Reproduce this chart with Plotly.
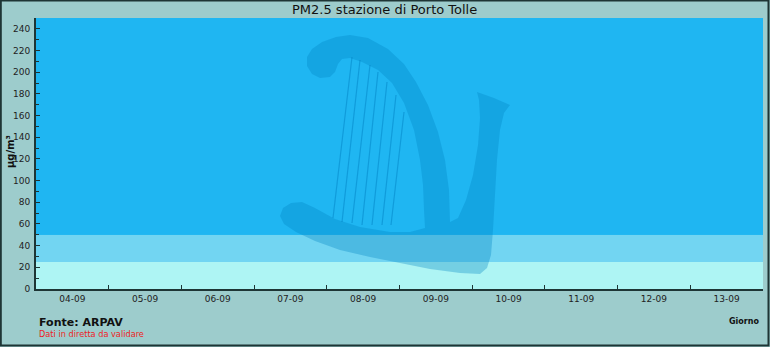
import plotly.graph_objects as go

# ---- data ----
days = ["04-09", "05-09", "06-09", "07-09", "08-09", "09-09", "10-09", "11-09", "12-09", "13-09"]
pm25 = [None, None, None, None, None, None, None, None, None, None]  # no measurements shown
band_limits = [0, 25, 50, 250]
band_colors = ["#AEF5F4", "#72D5F2", "#1FB6F2"]
y_ticks = [0, 20, 40, 60, 80, 100, 120, 140, 160, 180, 200, 220, 240]

W, H = 770, 347
L, R, T, B = 36, 7, 18, 58
PW, PH = W - L - R, H - T - B


def px(x):
    return (x - L) / PW


def py(y):
    return (H - B - y) / PH


def path(points, close=True):
    s = "M " + " L ".join(f"{px(x):.5f},{py(y):.5f}" for x, y in points)
    return s + (" Z" if close else "")


fig = go.Figure()
fig.add_trace(go.Scatter(x=days, y=pm25, mode="lines+markers", showlegend=False,
                         line=dict(color="#000000")))

shapes = []
for i, c in enumerate(band_colors):
    shapes.append(dict(type="rect", xref="paper", yref="y", x0=0, x1=1,
                       y0=band_limits[i], y1=band_limits[i + 1],
                       fillcolor=c, line=dict(width=0), layer="below"))

# watermark harp (decoration)
harp = [
    (330, 77), (320, 78), (312, 74), (307, 66), (307, 57), (312, 49), (322, 42),
    (336, 37), (350, 35),
    (368, 38), (388, 49), (404, 64), (416, 82), (428, 105), (438, 132), (445, 160),
    (449, 190), (450, 222), (458, 218), (466, 200), (473, 175), (478, 145),
    (480, 118), (479, 100), (477, 92), (494, 98), (510, 105), (504, 113), (500, 130),
    (497, 160), (495, 195), (493, 230), (491, 255), (487, 268), (480, 274),
    (460, 273), (430, 269), (400, 263), (370, 257), (340, 250), (315, 241),
    (296, 232), (284, 224), (280, 216), (283, 208), (291, 203), (302, 202),
    (315, 208), (335, 219), (360, 227), (390, 232), (410, 232), (425, 228),
    (424, 210), (423, 185), (420, 160), (414, 130), (404, 103), (392, 83),
    (378, 70), (362, 62), (350, 58), (342, 59), (338, 64), (335, 72),
]
shapes.append(dict(type="path", xref="paper", yref="paper", path=path(harp),
                   fillcolor="rgba(0,130,195,0.33)", line=dict(width=0), layer="above"))
strings = [
    ((352, 57), (333, 218)), ((360, 60), (342, 222)), ((370, 65), (352, 223)),
    ((378, 72), (362, 225)), ((387, 82), (372, 225)), ((396, 95), (382, 225)),
    ((404, 112), (391, 225)),
]
for a, b in strings:
    shapes.append(dict(type="path", xref="paper", yref="paper", path=path([a, b], close=False),
                       line=dict(color="rgba(0,130,195,0.5)", width=1.2), layer="above"))

# outer frame
shapes.append(dict(type="rect", xref="paper", yref="paper",
                   x0=px(0.8), x1=px(768.5), y0=py(345.5), y1=py(0.5),
                   line=dict(color="#1E3535", width=2), fillcolor="rgba(0,0,0,0)"))

fig.update_layout(
    width=W, height=H,
    margin=dict(l=L, r=R, t=T, b=B),
    paper_bgcolor="#9DCCCC",
    plot_bgcolor=band_colors[-1],
    shapes=shapes,
    showlegend=False,
    font=dict(family="DejaVu Sans", size=9, color="#222222"),
    annotations=[
        dict(text="PM2.5 stazione di Porto Tolle", xref="paper", yref="paper",
             x=px(384), y=py(10), showarrow=False, xanchor="center", yanchor="middle",
             font=dict(size=13, color="#111111")),
        dict(text="<b>µg/m³</b>", xref="paper", yref="paper", x=px(10), y=py(152),
             textangle=-90, showarrow=False, xanchor="center", yanchor="middle",
             font=dict(size=10, color="#111111")),
        dict(text="<b>Fonte: ARPAV</b>", xref="paper", yref="paper", x=px(37), y=py(322),
             showarrow=False, xanchor="left", yanchor="middle",
             font=dict(size=11, color="#111111")),
        dict(text="Dati in diretta da validare", xref="paper", yref="paper", x=px(37), y=py(334),
             showarrow=False, xanchor="left", yanchor="middle",
             font=dict(size=8.2, color="#EE1C25")),
        dict(text="<b>Giorno</b>", xref="paper", yref="paper", x=px(761), y=py(321),
             showarrow=False, xanchor="right", yanchor="middle",
             font=dict(size=8, color="#111111")),
    ],
)
fig.update_xaxes(type="category", categoryorder="array", categoryarray=days,
                 range=[-0.5, len(days) - 0.5], tickson="boundaries",
                 ticks="inside", ticklen=4, tickcolor="#1E3535", tickwidth=1,
                 showline=True, linecolor="#1E3535", linewidth=2, showgrid=False,
                 zeroline=False, fixedrange=True)
fig.update_yaxes(range=[0, 250], tickvals=y_ticks, ticks="inside", ticklen=4,
                 tickcolor="#1E3535", showline=True, linecolor="#1E3535", linewidth=2,
                 showgrid=False, zeroline=False, ticklabelstandoff=2,
                 minor=dict(dtick=10, tick0=0, ticks="inside", ticklen=3, tickcolor="#1E3535"))

fig.write_html("out.html")
